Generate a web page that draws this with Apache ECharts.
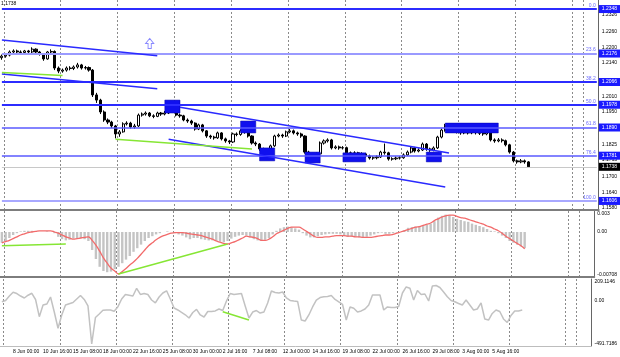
<!DOCTYPE html>
<html><head><meta charset="utf-8">
<script src="https://cdn.jsdelivr.net/npm/echarts@6/dist/echarts.min.js"></script>
<style>html,body{margin:0;padding:0;background:#fff}#c{width:620px;height:357px}</style>
</head><body><div id="c"></div><script>
// ---------------- DATA ----------------
const symbolPrice = '1.1738';
const tickLabels = ['8 Jun 00:00','10 Jun 16:00','15 Jun 08:00','18 Jun 00:00','22 Jun 16:00','25 Jun 08:00','30 Jun 00:00','2 Jul 16:00','7 Jul 08:00','12 Jul 00:00','14 Jul 16:00','19 Jul 08:00','22 Jul 00:00','26 Jul 16:00','29 Jul 08:00','3 Aug 00:00','5 Aug 16:00'];
// candles: [open, close, low, high]
const candles = [
[1.2160,1.2166,1.2152,1.2172],[1.2166,1.2170,1.2160,1.2178],[1.2170,1.2182,1.2165,1.2188],[1.2182,1.2186,1.2175,1.2192],[1.2186,1.2182,1.2176,1.2191],
[1.2182,1.2180,1.2173,1.2188],[1.2180,1.2186,1.2176,1.2190],[1.2186,1.2182,1.2175,1.2190],[1.2182,1.2193,1.2178,1.2200],[1.2193,1.2182,1.2176,1.2196],
[1.2182,1.2174,1.2168,1.2186],[1.2174,1.2155,1.2148,1.2178],[1.2155,1.2182,1.2152,1.2186],[1.2182,1.2184,1.2176,1.2192],[1.2184,1.2120,1.2112,1.2188],
[1.2120,1.2108,1.2100,1.2126],[1.2108,1.2112,1.2102,1.2118],[1.2112,1.2120,1.2106,1.2126],[1.2120,1.2118,1.2111,1.2127],[1.2118,1.2124,1.2112,1.2130],
[1.2124,1.2132,1.2118,1.2140],[1.2132,1.2120,1.2114,1.2136],[1.2120,1.2122,1.2114,1.2128],[1.2122,1.2112,1.2106,1.2126],[1.2112,1.2016,1.2008,1.2116],
[1.2016,1.1996,1.1985,1.2024],[1.1996,1.1950,1.1942,1.2001],[1.1950,1.1919,1.1912,1.1956],[1.1919,1.1911,1.1903,1.1925],[1.1911,1.1896,1.1888,1.1916],
[1.1896,1.1865,1.1848,1.1900],[1.1865,1.1873,1.1854,1.1880],[1.1873,1.1904,1.1870,1.1910],[1.1904,1.1907,1.1898,1.1914],[1.1907,1.1892,1.1886,1.1912],
[1.1892,1.1896,1.1885,1.1904],[1.1896,1.1938,1.1892,1.1944],[1.1938,1.1942,1.1932,1.1948],[1.1942,1.1946,1.1936,1.1952],[1.1946,1.1935,1.1930,1.1950],
[1.1935,1.1933,1.1926,1.1941],[1.1933,1.1946,1.1930,1.1951],[1.1946,1.1942,1.1935,1.1950],[1.1942,1.1946,1.1937,1.1954],[1.1946,1.1958,1.1942,1.1968],
[1.1958,1.1956,1.1948,1.1966],[1.1956,1.1938,1.1933,1.1960],[1.1938,1.1935,1.1928,1.1944],[1.1935,1.1919,1.1914,1.1939],[1.1919,1.1915,1.1908,1.1925],
[1.1915,1.1907,1.1900,1.1920],[1.1907,1.1884,1.1878,1.1910],[1.1884,1.1900,1.1880,1.1905],[1.1900,1.1877,1.1871,1.1904],[1.1877,1.1857,1.1850,1.1880],
[1.1857,1.1853,1.1846,1.1862],[1.1853,1.1850,1.1843,1.1858],[1.1850,1.1869,1.1846,1.1874],[1.1869,1.1846,1.1840,1.1872],[1.1846,1.1838,1.1831,1.1851],
[1.1838,1.1834,1.1826,1.1842],[1.1834,1.1865,1.1830,1.1870],[1.1865,1.1863,1.1856,1.1871],[1.1863,1.1877,1.1858,1.1883],[1.1877,1.1873,1.1866,1.1884],
[1.1873,1.1857,1.1851,1.1876],[1.1857,1.1830,1.1824,1.1860],[1.1830,1.1826,1.1818,1.1836],[1.1826,1.1807,1.1800,1.1830],[1.1807,1.1799,1.1792,1.1812],
[1.1799,1.1795,1.1788,1.1804],[1.1795,1.1819,1.1791,1.1824],[1.1819,1.1857,1.1815,1.1862],[1.1857,1.1861,1.1852,1.1867],[1.1861,1.1857,1.1850,1.1866],
[1.1857,1.1873,1.1853,1.1878],[1.1873,1.1877,1.1868,1.1884],[1.1877,1.1869,1.1863,1.1882],[1.1869,1.1865,1.1858,1.1874],[1.1865,1.1857,1.1850,1.1870],
[1.1857,1.1795,1.1789,1.1860],[1.1795,1.1784,1.1776,1.1800],[1.1784,1.1785,1.1777,1.1792],[1.1785,1.1788,1.1779,1.1794],[1.1788,1.1830,1.1784,1.1836],
[1.1830,1.1838,1.1824,1.1844],[1.1838,1.1842,1.1832,1.1848],[1.1842,1.1811,1.1805,1.1846],[1.1811,1.1815,1.1806,1.1821],[1.1815,1.1811,1.1804,1.1820],
[1.1811,1.1812,1.1805,1.1818],[1.1812,1.1792,1.1786,1.1816],[1.1792,1.1788,1.1781,1.1797],[1.1788,1.1792,1.1783,1.1798],[1.1792,1.1784,1.1778,1.1796],
[1.1784,1.1788,1.1779,1.1794],[1.1788,1.1780,1.1774,1.1792],[1.1780,1.1772,1.1766,1.1785],[1.1772,1.1773,1.1765,1.1779],[1.1773,1.1776,1.1767,1.1782],
[1.1776,1.1795,1.1772,1.1800],[1.1795,1.1792,1.1785,1.1828],[1.1792,1.1768,1.1762,1.1796],[1.1768,1.1769,1.1762,1.1775],[1.1769,1.1772,1.1764,1.1778],
[1.1772,1.1773,1.1766,1.1779],[1.1773,1.1784,1.1769,1.1790],[1.1784,1.1795,1.1780,1.1801],[1.1795,1.1811,1.1790,1.1817],[1.1811,1.1799,1.1793,1.1815],
[1.1799,1.1803,1.1794,1.1809],[1.1803,1.1826,1.1799,1.1832],[1.1826,1.1807,1.1800,1.1830],[1.1807,1.1803,1.1796,1.1812],[1.1803,1.1811,1.1798,1.1817],
[1.1811,1.1853,1.1807,1.1858],[1.1853,1.1880,1.1848,1.1886],[1.1880,1.1896,1.1874,1.1904],[1.1896,1.1892,1.1885,1.1902],[1.1892,1.1884,1.1878,1.1898],
[1.1884,1.1873,1.1867,1.1889],[1.1873,1.1869,1.1862,1.1880],[1.1869,1.1873,1.1864,1.1880],[1.1873,1.1869,1.1863,1.1878],[1.1869,1.1873,1.1864,1.1880],
[1.1873,1.1870,1.1863,1.1879],[1.1870,1.1868,1.1861,1.1876],[1.1868,1.1865,1.1858,1.1874],[1.1865,1.1873,1.1860,1.1890],[1.1873,1.1842,1.1836,1.1876],
[1.1842,1.1838,1.1831,1.1848],[1.1838,1.1842,1.1833,1.1849],[1.1842,1.1839,1.1832,1.1848],[1.1839,1.1823,1.1817,1.1843],[1.1823,1.1795,1.1789,1.1827],
[1.1795,1.1761,1.1755,1.1799],[1.1761,1.1757,1.1750,1.1766],[1.1757,1.1761,1.1752,1.1768],[1.1761,1.1757,1.1750,1.1766],[1.1757,1.1738,1.1734,1.1760]
];
const macdMain = [
-0.0018,-0.0015,-0.0010,-0.0005,-0.0002,0.0001,0.0002,0.0002,0.0002,0.0001,
0.0000,0.0000,0.0001,0.0000,-0.0002,-0.0008,-0.0012,-0.0014,-0.0013,-0.0011,
-0.0010,-0.0010,-0.0012,-0.0015,-0.0030,-0.0045,-0.0058,-0.0065,-0.0067,-0.0066,
-0.0062,-0.0058,-0.0052,-0.0046,-0.0040,-0.0033,-0.0027,-0.0021,-0.0015,-0.0010,
-0.0007,-0.0004,-0.0002,0.0000,0.0001,0.0000,-0.0002,-0.0004,-0.0006,-0.0009,
-0.0012,-0.0010,-0.0010,-0.0012,-0.0013,-0.0014,-0.0014,-0.0015,-0.0016,-0.0017,
-0.0015,-0.0011,-0.0008,-0.0006,-0.0005,-0.0006,-0.0009,-0.0012,-0.0014,-0.0015,
-0.0013,-0.0010,-0.0004,0.0002,0.0006,0.0008,0.0009,0.0008,0.0006,0.0004,
-0.0002,-0.0006,-0.0009,-0.0009,-0.0007,-0.0005,-0.0004,-0.0003,-0.0003,-0.0003,
-0.0004,-0.0005,-0.0008,-0.0008,-0.0008,-0.0009,-0.0009,-0.0008,-0.0006,-0.0004,
-0.0002,-0.0001,-0.0003,-0.0003,-0.0002,-0.0001,0.0000,0.0003,0.0007,0.0008,
0.0009,0.0010,0.0011,0.0012,0.0014,0.0018,0.0024,0.0027,0.0029,0.0028,
0.0025,0.0022,0.0020,0.0018,0.0017,0.0014,0.0012,0.0010,0.0008,0.0005,
0.0002,0.0001,-0.0002,-0.0006,-0.0010,-0.0015,-0.0018,-0.0021,-0.0024,-0.0027
];
const macdSignal = [
-0.0018,-0.0016,-0.0014,-0.0011,-0.0008,-0.0005,-0.0003,-0.0001,0.0000,0.0001,
0.0002,0.0002,0.0002,0.0002,0.0000,-0.0002,-0.0005,-0.0008,-0.0010,-0.0012,
-0.0011,-0.0010,-0.0009,-0.0008,-0.0014,-0.0022,-0.0032,-0.0043,-0.0052,-0.0060,
-0.0065,-0.0070,-0.0066,-0.0061,-0.0055,-0.0050,-0.0044,-0.0037,-0.0030,-0.0023,
-0.0018,-0.0013,-0.0009,-0.0006,-0.0004,-0.0002,-0.0001,-0.0001,-0.0001,-0.0002,
-0.0003,-0.0004,-0.0005,-0.0006,-0.0008,-0.0010,-0.0012,-0.0015,-0.0017,-0.0019,
-0.0020,-0.0018,-0.0016,-0.0013,-0.0010,-0.0007,-0.0008,-0.0009,-0.0011,-0.0014,
-0.0014,-0.0012,-0.0008,-0.0003,0.0000,0.0003,0.0006,0.0008,0.0008,0.0008,
0.0005,0.0001,-0.0003,-0.0007,-0.0009,-0.0009,-0.0008,-0.0008,-0.0007,-0.0006,
-0.0006,-0.0006,-0.0007,-0.0007,-0.0008,-0.0008,-0.0009,-0.0009,-0.0009,-0.0008,
-0.0007,-0.0006,-0.0005,-0.0005,-0.0004,-0.0002,0.0000,0.0002,0.0004,0.0006,
0.0008,0.0009,0.0011,0.0013,0.0015,0.0019,0.0022,0.0025,0.0027,0.0028,
0.0028,0.0026,0.0024,0.0023,0.0021,0.0019,0.0017,0.0015,0.0013,0.0010,
0.0008,0.0005,0.0002,-0.0002,-0.0007,-0.0011,-0.0015,-0.0019,-0.0023,-0.0028
];
const cci = [
-16,-2,48,91,76,48,26,57,79,9,
-184,-53,-42,37,-132,-315,-165,-53,-39,-25,
15,54,9,-62,-490,-193,-154,-111,-109,-109,
-124,-72,15,65,57,48,135,66,76,65,
3,-30,37,82,107,15,-87,-109,-137,-163,
-199,-137,-103,-165,-188,-126,-126,-120,-98,-115,
-8,76,65,71,76,-64,-199,-132,-115,-143,
-132,-30,105,88,82,93,28,-2,-8,-13,
-222,-233,-165,-75,3,31,40,43,54,9,
-19,-47,-222,-75,-90,-132,-120,-98,-53,60,
60,60,-109,-75,-81,-81,-70,82,150,135,
3,110,65,71,-8,161,166,144,93,40,
-2,-16,-36,-53,3,-53,-109,-98,-30,-210,
-222,-148,-109,-126,-210,-250,-171,-120,-120,-109
];
const fibNames  = ['0.0','23.6','38.2','50.0','61.8','76.4','100.0'];
const fibValues = [1.2348,1.2176,1.2066,1.1978,1.1890,1.1781,1.1606];
const currentPrice = 1.1738;
const priceTicks = [1.2326,1.2260,1.2200,1.2140,1.2010,1.1950,1.1825,1.1765,1.1700,1.1640,1.1580];
const macdTicks = [0.003, 0, -0.00708];
const macdTickText = ['0.003','0.00','-0.00708'];
const cciTicks = [209.1146, 0, -491.7186];
const cciTickText = ['209.1146','0.00','-491.7186'];
// trend lines: [[index, price],[index, price]]
const blueLines = [
  [[0,1.2228],[41,1.2167]],
  [[0,1.2097],[41,1.2040]],
  [[47,1.1968],[118,1.1791]],
  [[44,1.1845],[117,1.1660]]
];
const greenLines = [
  [[0,1.2103],[16,1.2091]],
  [[30,1.1845],[66,1.1807]]
];
const macdGreenLines = [
  [[0,-0.0023],[17,-0.0020]],
  [[31,-0.0070],[60,-0.0020]]
];
const cciGreenLines = [
  [[59,-128],[66,-222]]
];
// blue boxes: [[index, priceTop],[index, priceBottom]]
const boxes = [
  [[43,1.1996],[47,1.1946]],
  [[63,1.1915],[67,1.1869]],
  [[68,1.1811],[72,1.1761]],
  [[80,1.1795],[84,1.1753]],
  [[90,1.1792],[96,1.1757]],
  [[112,1.1795],[116,1.1757]],
  [[117,1.1907],[131,1.1869]]
];
const arrowPoint = [39, 1.2215];

// ---------------- LAYOUT / STYLE ----------------
const FONT = '"Liberation Sans Narrow","Liberation Sans",Arial,sans-serif';
const SLOT_COUNT = 158, FIRST_LABEL_SLOT = 3, SLOTS_PER_LABEL = 8;
const LAST_SLOT = SLOT_COUNT - 1;
const categories = [];
for (let i = 0; i < SLOT_COUNT; i++) {
  const k = (i - FIRST_LABEL_SLOT) / SLOTS_PER_LABEL;
  categories.push(Number.isInteger(k) && k >= 0 && k < tickLabels.length ? tickLabels[k] : '');
}
const gridLineAt = (i) => (i % 15 === 1) || i === 154;
const FIB_STYLE = [
  {c:'#2c2cff', w:2}, {c:'#9a9aff', w:2}, {c:'#2c2cff', w:2}, {c:'#2c2cff', w:2},
  {c:'#5a5aff', w:1.5}, {c:'#5a5aff', w:1.5}, {c:'#a8a8ff', w:2}
];
const BOX_LABEL = {show:true, position:'end', distance:2, color:'#fff', fontSize:5, fontFamily:FONT,
  padding:[1,3,1,3], lineHeight:6};

const hLine = (v, lineStyle, label) => [
  {coord:[0, v], lineStyle:lineStyle, label:label},
  {coord:[LAST_SLOT, v]}
];
const levelLines = [];
fibValues.forEach((v, i) => {
  levelLines.push(hLine(v, {color:FIB_STYLE[i].c, width:FIB_STYLE[i].w, type:'solid'},
    Object.assign({}, BOX_LABEL, {formatter: v.toFixed(4), backgroundColor:'#1a1aff'})));
});
levelLines.push(hLine(currentPrice, {color:'#c8c8c8', width:1, type:'solid'},
  Object.assign({}, BOX_LABEL, {formatter: currentPrice.toFixed(4), backgroundColor:'#000'})));

const fibNameLines = fibNames.map((n, i) => hLine(fibValues[i], {color:'rgba(255,255,255,0)', width:1, type:'solid'},
  {show:true, position:'insideEndTop', formatter:n, color:'#6a6aff', fontSize:5, fontFamily:FONT, distance:[1,1]}));

const trendLines = [];
blueLines.forEach(l => trendLines.push([{coord:l[0], lineStyle:{color:'#2a2aff', width:1.5, type:'solid'}, label:{show:false}}, {coord:l[1]}]));
greenLines.forEach(l => trendLines.push([{coord:l[0], lineStyle:{color:'#86e634', width:1.5, type:'solid'}, label:{show:false}}, {coord:l[1]}]));

const greenML = (arr) => ({symbol:['none','none'], silent:true, animation:false,
  data: arr.map(l => [{coord:l[0], lineStyle:{color:'#86e634', width:1.5, type:'solid'}, label:{show:false}}, {coord:l[1]}])});

const mkX = (g) => ({
  type:'category', gridIndex:g, data:categories, boundaryGap:true,
  axisLine:{show:true, onZero:false, lineStyle:{color: g < 2 ? '#7d7d7d' : '#bdbdbd', width: g < 2 ? 2 : 1}},
  axisTick:{show:false},
  axisLabel: g === 2 ? {show:true, interval:(i, v) => v !== '', align:'left', margin:3, fontSize:5, color:'#000', fontFamily:FONT, hideOverlap:false} : {show:false},
  splitLine:{show:true, interval:gridLineAt, lineStyle:{color:'#8a8a8a', type:[2,2], width:1}}
});
const mkY = (g, min, max, ticks, fmt) => ({
  type:'value', gridIndex:g, position:'right', min:min, max:max,
  axisLine:{show:true, lineStyle:{color:'#666', width:1}},
  axisTick:{show:false},
  splitLine:{show:false},
  axisLabel:{show:true, customValues:ticks, formatter:fmt, margin:3, fontSize:5, color:'#000', fontFamily:FONT}
});

const option = {
  animation:false,
  backgroundColor:'#fff',
  textStyle:{fontFamily:FONT},
  title:{text:symbolPrice, left:1, top:1, padding:0, textStyle:{fontSize:5, fontWeight:'normal', color:'#000', fontFamily:FONT}},
  grid:[
    {left:-2, right:20, top:0, height:210},
    {left:-2, right:20, top:211, height:66},
    {left:-2, right:20, top:279, height:67}
  ],
  xAxis:[mkX(0), mkX(1), mkX(2)],
  yAxis:[
    mkY(0, 1.1571, 1.2383, priceTicks, v => v.toFixed(4)),
    mkY(1, -0.0075, 0.0035, macdTicks, v => macdTickText[macdTicks.indexOf(v)] ?? ''),
    mkY(2, -514.2, 239.5, cciTicks, v => cciTickText[cciTicks.indexOf(v)] ?? '')
  ],
  series:[
    {type:'line', xAxisIndex:0, yAxisIndex:0, data:[], symbol:'none', silent:true,
      markLine:{symbol:['none','none'], silent:true, animation:false, data:levelLines}
    },
    {type:'line', xAxisIndex:0, yAxisIndex:0, data:[], symbol:'none', silent:true, z:4,
      markLine:{symbol:['none','none'], silent:true, animation:false, data:fibNameLines}
    },
    {type:'candlestick', xAxisIndex:0, yAxisIndex:0, data:candles, barWidth:2.6,
      itemStyle:{color:'#ffffff', color0:'#000000', borderColor:'#000000', borderColor0:'#000000', borderWidth:1},
      markLine:{symbol:['none','none'], silent:true, animation:false, data:trendLines},
      markArea:{silent:true, z:5, itemStyle:{color:'#1010ee', borderColor:'#0000aa', borderWidth:0.5},
        data: boxes.map(b => [{coord:b[0]}, {coord:b[1]}])}
    },
    {type:'scatter', xAxisIndex:0, yAxisIndex:0, data:[arrowPoint], symbol:'path://M5,0 L10,5 L7,5 L7,10 L3,10 L3,5 L0,5 Z',
      symbolSize:[8,10], itemStyle:{color:'#ffffff', borderColor:'#6a6aff', borderWidth:1}, silent:true},
    {type:'bar', xAxisIndex:1, yAxisIndex:1, data:macdMain, barWidth:2.4, itemStyle:{color:'#c4c4c4'}, silent:true},
    {type:'line', xAxisIndex:1, yAxisIndex:1, data:macdSignal, smooth:0.4, symbol:'none',
      lineStyle:{color:'#f26a6a', width:1.3}, silent:true, markLine:greenML(macdGreenLines)},
    {type:'line', xAxisIndex:2, yAxisIndex:2, data:cci, symbol:'none',
      lineStyle:{color:'#c2c2c2', width:1.5}, silent:true, markLine:greenML(cciGreenLines)}
  ]
};
const chart = echarts.init(document.getElementById('c'), null, {renderer:'canvas'});
chart.setOption(option);
</script></body></html>
